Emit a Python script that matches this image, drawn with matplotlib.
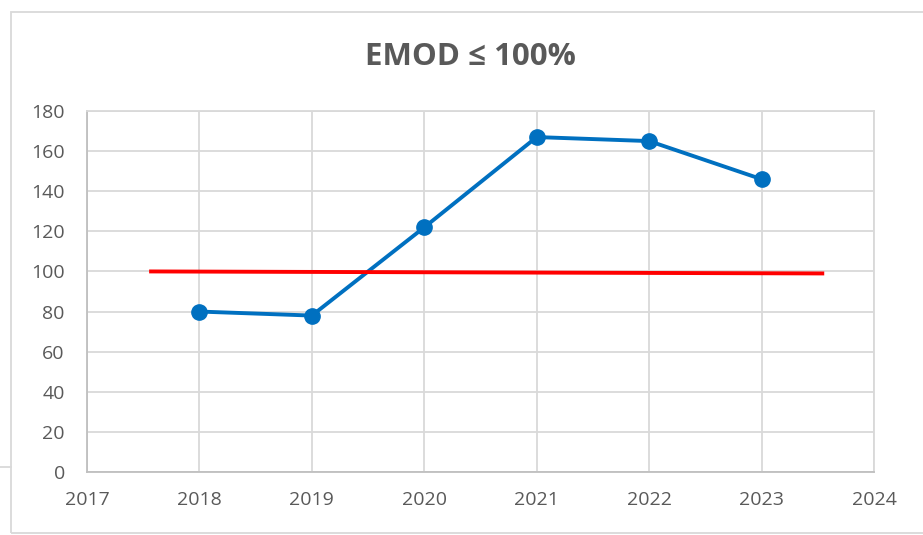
import matplotlib.pyplot as plt
from matplotlib.lines import Line2D
from matplotlib.patches import Rectangle

plt.rcParams['font.family'] = ['Open Sans', 'DejaVu Sans']

# data
years = [2018, 2019, 2020, 2021, 2022, 2023]
emod = [80, 78, 122, 167, 165, 146]
limit_x = [2017.57, 2023.54]
limit_y = [100, 99]
x_ticks = [2017, 2018, 2019, 2020, 2021, 2022, 2023, 2024]
y_ticks = [0, 20, 40, 60, 80, 100, 120, 140, 160, 180]

fig = plt.figure(figsize=(9.23, 5.35), dpi=100)
ax = fig.add_axes([87 / 923, 63 / 535, 787 / 923, 361 / 535])

grid_col = '#d9d9d9'
txt_col = '#595959'

ax.plot(years, emod, color='#0070c0', linewidth=2.8, marker='o', markersize=11, zorder=3)
ax.plot(limit_x, limit_y, color='#ff0000', linewidth=2.8, zorder=3)

ax.set_xlim(2017, 2024)
ax.set_ylim(0, 180)
ax.set_xticks(x_ticks)
ax.set_yticks(y_ticks)
ax.grid(True, color=grid_col, linewidth=1.3)
ax.set_axisbelow(True)
ax.tick_params(length=0, labelsize=14, colors=txt_col)
ax.tick_params(axis='x', pad=14)
ax.tick_params(axis='y', pad=16)

for side in ['top', 'right']:
    ax.spines[side].set_color(grid_col)
    ax.spines[side].set_linewidth(1.3)
for side in ['left', 'bottom']:
    ax.spines[side].set_color('#bfbfbf')
    ax.spines[side].set_linewidth(1.3)

fig.text(470 / 923, 1 - 57 / 535, 'EMOD \u2264 100%', ha='center', va='center',
         fontsize=22.5, fontweight='bold', color=txt_col)

# chart frame
fig.patches.append(Rectangle((11 / 923, 2 / 535), 1.0, 521 / 535, transform=fig.transFigure,
                             fill=False, edgecolor=grid_col, linewidth=1.3))
fig.lines.append(Line2D([0, 11 / 923], [1 - 467 / 535, 1 - 467 / 535], transform=fig.transFigure,
                        color=grid_col, linewidth=1.3))

fig.savefig('out.png', dpi=100)
